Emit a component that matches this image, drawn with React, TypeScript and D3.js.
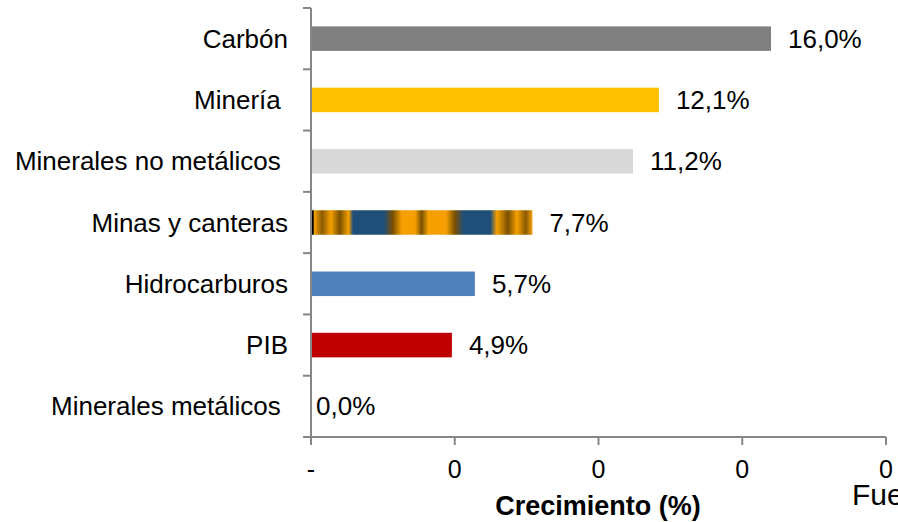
import React from 'react';
import * as d3 from 'd3';

const categories = [
  'Carbón',
  'Minería ',
  'Minerales no metálicos ',
  'Minas y canteras',
  'Hidrocarburos',
  'PIB',
  'Minerales metálicos ',
];
const growth = [16.0, 12.1, 11.2, 7.7, 5.7, 4.9, 0.0];
const barColors = ['#808080', '#FFC000', '#D9D9D9', 'url(#minas)', '#4F81BD', '#C00000', '#808080'];
const xTicks = [0, 5, 10, 15, 20];
const xTickLabels = ['-', '0', '0', '0', '0'];

// stops for the textured "Minas y canteras" bar
const minasStops = [
  ['0%', '#000000'], ['1%', '#000000'], ['1.5%', '#F5A000'], ['5%', '#8A5A00'], ['9%', '#F5A000'],
  ['13%', '#7A5000'], ['17%', '#F5A000'], ['19%', '#1F4E79'], ['33%', '#1F4E79'],
  ['37%', '#7A5000'], ['41%', '#F5A000'], ['47%', '#F5A000'], ['50%', '#7A5000'], ['53%', '#F5A000'],
  ['61%', '#F5A000'], ['65%', '#7A5000'], ['69%', '#1F4E79'], ['81%', '#1F4E79'],
  ['84%', '#F5A000'], ['89%', '#7A5000'], ['93%', '#F5A000'], ['97%', '#8A5A00'], ['100%', '#F5A000'],
];

const Label = ({ x, y, anchor = 'start', size = 26, bold = false, children }: any) => (
  <text
    x={x}
    y={y}
    textAnchor={anchor}
    dominantBaseline='central'
    fontSize={size}
    fontWeight={bold ? 'bold' : 'normal'}
    style={{ whiteSpace: 'pre' }}
  >
    {children}
  </text>
);

const App = () => {
  const width = 898;
  const height = 522;
  const left = 311;
  const right = 886;
  const top = 8;
  const bottom = 437;
  const font = '"Liberation Sans", Arial, sans-serif';

  const x = d3.scaleLinear().domain([0, 20]).range([left, right]);
  const y = d3.scaleBand().domain(categories).range([top, bottom]).paddingInner(0.6).paddingOuter(0.3);
  const band = d3.scaleBand().domain(categories).range([top, bottom]);

  return (
    <svg width={width} height={height} style={{ position: 'absolute', left: 0, top: 0, fontFamily: font }}>
      <defs>
        <linearGradient id='minas' x1='0' x2='1' y1='0' y2='0'>
          {minasStops.map(([o, c], i) => (
            <stop key={i} offset={o} stopColor={c} />
          ))}
        </linearGradient>
      </defs>
      {categories.map((c, i) => (
        <rect
          key={c}
          x={left}
          y={y(c)}
          width={x(growth[i]) - left}
          height={y.bandwidth()}
          fill={barColors[i]}
        />
      ))}
      {/* y axis */}
      <line x1={left} x2={left} y1={top} y2={bottom} stroke='#868686' strokeWidth={2} />
      {categories.map((c) => (
        <line key={c} x1={left - 8} x2={left} y1={band(c)} y2={band(c)} stroke='#868686' strokeWidth={2} />
      ))}
      {/* x axis */}
      <line x1={left - 8} x2={right} y1={bottom} y2={bottom} stroke='#868686' strokeWidth={2} />
      {xTicks.map((t, i) => (
        <g key={t}>
          <line x1={x(t)} x2={x(t)} y1={bottom} y2={bottom + 8} stroke='#868686' strokeWidth={2} />
          <Label x={x(t)} y={469} anchor='middle' size={25}>
            {xTickLabels[i]}
          </Label>
        </g>
      ))}
      {categories.map((c) => (
        <Label key={c} x={288} y={band(c)! + band.bandwidth() / 2} anchor='end'>
          {c}
        </Label>
      ))}
      {categories.map((c, i) => (
        <Label key={c} x={x(growth[i]) + (growth[i] > 0 ? 17 : 5)} y={band(c)! + band.bandwidth() / 2}>
          {growth[i].toFixed(1).replace('.', ',') + '%'}
        </Label>
      ))}
      <Label x={598} y={506} anchor='middle' size={27} bold>
        Crecimiento (%)
      </Label>
      <Label x={852} y={494} size={30}>
        Fuente
      </Label>
    </svg>
  );
};

export default App;
